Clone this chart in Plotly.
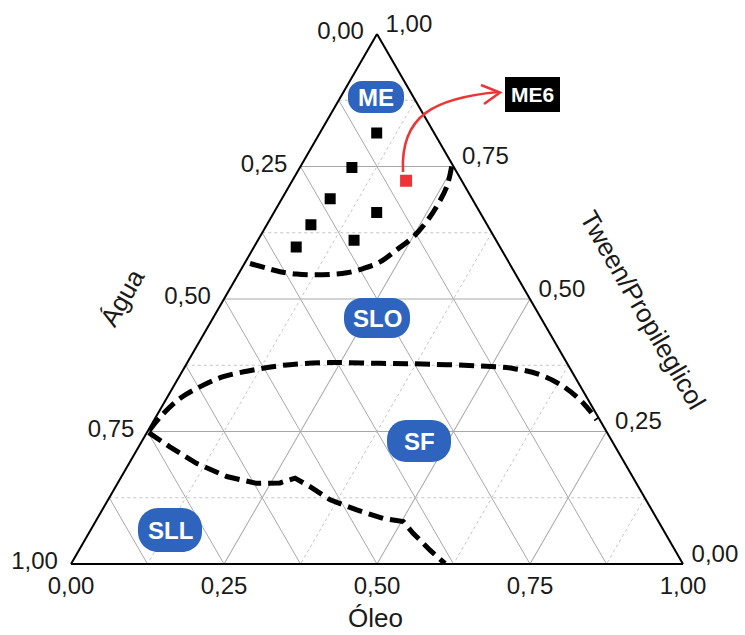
import plotly.graph_objects as go

W, H = 745, 635

# Ternary composition (mass fractions) of the prepared formulations
# components: Tween/Propileglicol (top), Água (bottom-left), Óleo (bottom-right)
form_tween = [0.813, 0.748, 0.689, 0.663, 0.640, 0.611, 0.598]
form_agua = [0.094, 0.167, 0.232, 0.169, 0.288, 0.232, 0.333]
form_oleo = [0.093, 0.085, 0.079, 0.168, 0.072, 0.157, 0.069]

# selected formulation ME6
me6_tween = [0.723]
me6_agua = [0.091]
me6_oleo = [0.186]

# phase boundary: microemulsion (ME) region
me_tween = [0.567, 0.558, 0.552, 0.547, 0.545, 0.547, 0.550, 0.558, 0.570,
            0.593, 0.618, 0.646, 0.674, 0.712, 0.750]
me_agua = [0.424, 0.401, 0.383, 0.358, 0.331, 0.304, 0.275, 0.244, 0.210,
           0.171, 0.132, 0.096, 0.065, 0.030, 0.003]
me_oleo = [0.009, 0.041, 0.066, 0.095, 0.123, 0.150, 0.176, 0.199, 0.220,
           0.236, 0.251, 0.258, 0.260, 0.258, 0.247]

# phase boundary: SLO / SF
slo_tween = [0.252, 0.284, 0.313, 0.335, 0.353, 0.366, 0.376, 0.380, 0.379,
             0.377, 0.374, 0.369, 0.357, 0.335, 0.303, 0.272]
slo_agua = [0.746, 0.707, 0.666, 0.622, 0.574, 0.519, 0.460, 0.387, 0.306,
            0.225, 0.145, 0.093, 0.055, 0.028, 0.011, 0.005]
slo_oleo = [0.002, 0.009, 0.022, 0.044, 0.072, 0.115, 0.165, 0.233, 0.316,
            0.398, 0.482, 0.538, 0.588, 0.637, 0.686, 0.723]

# phase boundary: SLL / SF
sll_tween = [0.248, 0.221, 0.190, 0.165, 0.152, 0.153, 0.162, 0.146, 0.121,
             0.102, 0.086, 0.080, 0.058, 0.026, 0.001]
sll_agua = [0.749, 0.728, 0.700, 0.663, 0.620, 0.582, 0.553, 0.537, 0.516,
            0.482, 0.447, 0.417, 0.412, 0.400, 0.388]
sll_oleo = [0.003, 0.051, 0.110, 0.172, 0.227, 0.265, 0.285, 0.318, 0.363,
            0.416, 0.467, 0.503, 0.530, 0.573, 0.610]

# axis ticks; each edge is labelled with the complementary component
TICK_VALUES = [0.0, 0.25, 0.5, 0.75, 1.0]
EDGE_LABELS = ["1,00", "0,75", "0,50", "0,25", "0,00"]
MINOR_LEVELS = [0.125, 0.375, 0.625, 0.875]

# region labels: (text, x px, y px, width px, height px)
REGIONS = [("ME", 376, 97, 56, 32), ("SLO", 377, 318, 66, 40),
           ("SF", 419, 441, 64, 42), ("SLL", 170, 530, 64, 44)]

FONT = "Liberation Sans, Arial, sans-serif"
BADGE_BLUE = "#2e64be"
RED = "#ee3434"
TEXT = "#1a1a1a"


def paper(x, y):
    return x / W, 1 - y / H


def level_lines(kind, levels):
    a, b, c = [], [], []
    for v in levels:
        if kind == "a":
            seg = [(v, 1 - v, 0), (v, 0, 1 - v)]
        elif kind == "b":
            seg = [(1 - v, v, 0), (0, v, 1 - v)]
        else:
            seg = [(1 - v, 0, v), (0, 1 - v, v)]
        for p in seg:
            a.append(p[0]); b.append(p[1]); c.append(p[2])
        a.append(None); b.append(None); c.append(None)
    return a, b, c


fig = go.Figure()

# fine grid: Água lines solid, Tween and Óleo lines dotted
ga, gb, gc = level_lines("b", MINOR_LEVELS)
fig.add_trace(go.Scatterternary(a=ga, b=gb, c=gc, mode="lines",
                                line=dict(color="#a8a8a8", width=1),
                                hoverinfo="skip", showlegend=False))
da, db, dc = [], [], []
for k in ("a", "c"):
    x1, x2, x3 = level_lines(k, MINOR_LEVELS)
    da += x1; db += x2; dc += x3
fig.add_trace(go.Scatterternary(a=da, b=db, c=dc, mode="lines",
                                line=dict(color="#c4c4c4", width=1, dash="dot"),
                                hoverinfo="skip", showlegend=False))

dash_style = dict(color="black", width=5, dash="15px,7px")
fig.add_trace(go.Scatterternary(a=me_tween, b=me_agua, c=me_oleo, mode="lines",
                                line=dict(shape="spline", **dash_style),
                                hoverinfo="skip", showlegend=False))
fig.add_trace(go.Scatterternary(a=slo_tween, b=slo_agua, c=slo_oleo, mode="lines",
                                line=dict(shape="spline", **dash_style),
                                hoverinfo="skip", showlegend=False))
fig.add_trace(go.Scatterternary(a=sll_tween, b=sll_agua, c=sll_oleo, mode="lines",
                                line=dict(shape="linear", **dash_style),
                                hoverinfo="skip", showlegend=False))

fig.add_trace(go.Scatterternary(a=form_tween, b=form_agua, c=form_oleo, mode="markers",
                                marker=dict(symbol="square", size=11, color="black"),
                                showlegend=False))
fig.add_trace(go.Scatterternary(a=me6_tween, b=me6_agua, c=me6_oleo, mode="markers",
                                marker=dict(symbol="square", size=12, color=RED),
                                showlegend=False))


def axis_style(label_gap):
    return dict(
        tickmode="array", tickvals=TICK_VALUES, ticktext=EDGE_LABELS,
        showgrid=True, gridcolor="#a8a8a8", gridwidth=1,
        linecolor="black", linewidth=2,
        ticks="outside" if label_gap else "", ticklen=label_gap,
        tickcolor="rgba(0,0,0,0)",
        tickfont=dict(family=FONT, size=24, color=TEXT),
        title=dict(text=""), layer="above traces",
    )


shapes = []
annotations = []

for text, cx, cy, bw, bh in REGIONS:
    r = bh / 2 - 2
    hw, hh = bw / 2, bh / 2
    path = (f"M{-hw + r},{-hh} L{hw - r},{-hh} C{hw - r * 0.45},{-hh} {hw},{-hh + r * 0.45} {hw},{-hh + r} "
            f"L{hw},{hh - r} C{hw},{hh - r * 0.45} {hw - r * 0.45},{hh} {hw - r},{hh} L{-hw + r},{hh} "
            f"C{-hw + r * 0.45},{hh} {-hw},{hh - r * 0.45} {-hw},{hh - r} L{-hw},{-hh + r} "
            f"C{-hw},{-hh + r * 0.45} {-hw + r * 0.45},{-hh} {-hw + r},{-hh} Z")
    ax, ay = paper(cx, cy)
    shapes.append(dict(type="path", xref="paper", yref="paper",
                       xsizemode="pixel", ysizemode="pixel",
                       xanchor=ax, yanchor=ay, path=path,
                       fillcolor=BADGE_BLUE, line=dict(width=0), layer="above"))
    annotations.append(dict(x=ax, y=ay, xref="paper", yref="paper", text=f"<b>{text}</b>",
                            xanchor="center", yanchor="middle", showarrow=False,
                            font=dict(family=FONT, size=24, color="white")))

# curved callout from ME6 to its label
p0, p1, p2, p3 = paper(403, 172), paper(400, 115), paper(435, 98), paper(498, 92)
shapes.append(dict(type="path", xref="paper", yref="paper",
                   path=f"M{p0[0]},{p0[1]} C{p1[0]},{p1[1]} {p2[0]},{p2[1]} {p3[0]},{p3[1]}",
                   line=dict(color=RED, width=2.5), layer="above"))
h0, h1, h2 = paper(481, 85), paper(500, 92.5), paper(484, 104)
shapes.append(dict(type="path", xref="paper", yref="paper",
                   path=f"M{h0[0]},{h0[1]} L{h1[0]},{h1[1]} L{h2[0]},{h2[1]}",
                   line=dict(color=RED, width=2.5), layer="above"))

lx, ly = paper(532.5, 94.5)
annotations.append(dict(x=lx, y=ly, xref="paper", yref="paper", text="<b>ME6</b>",
                        xanchor="center", yanchor="middle",
                        showarrow=False, bgcolor="black", borderpad=4, borderwidth=0,
                        width=47, height=27,
                        font=dict(family=FONT, size=21, color="white")))

# edge titles
for text, x, y, angle in [("Água", 122, 298, -60),
                          ("Tween/Propileglicol", 643, 310, 60),
                          ("Óleo", 375, 618, 0)]:
    tx, ty = paper(x, y)
    annotations.append(dict(x=tx, y=ty, xref="paper", yref="paper", text=text,
                            textangle=angle, xanchor="center", yanchor="middle",
                            showarrow=False,
                            font=dict(family=FONT, size=26, color=TEXT)))

fig.update_layout(
    width=W, height=H,
    margin=dict(l=0, r=0, t=0, b=0),
    paper_bgcolor="white",
    showlegend=False,
    ternary=dict(
        domain=dict(x=[71 / W, 683 / W], y=[1 - 564 / H, 1 - 34 / H]),
        bgcolor="white", sum=1,
        aaxis=axis_style(9), baxis=axis_style(0), caxis=axis_style(9),
    ),
    shapes=shapes,
    annotations=annotations,
)

fig.write_html("out.html")
